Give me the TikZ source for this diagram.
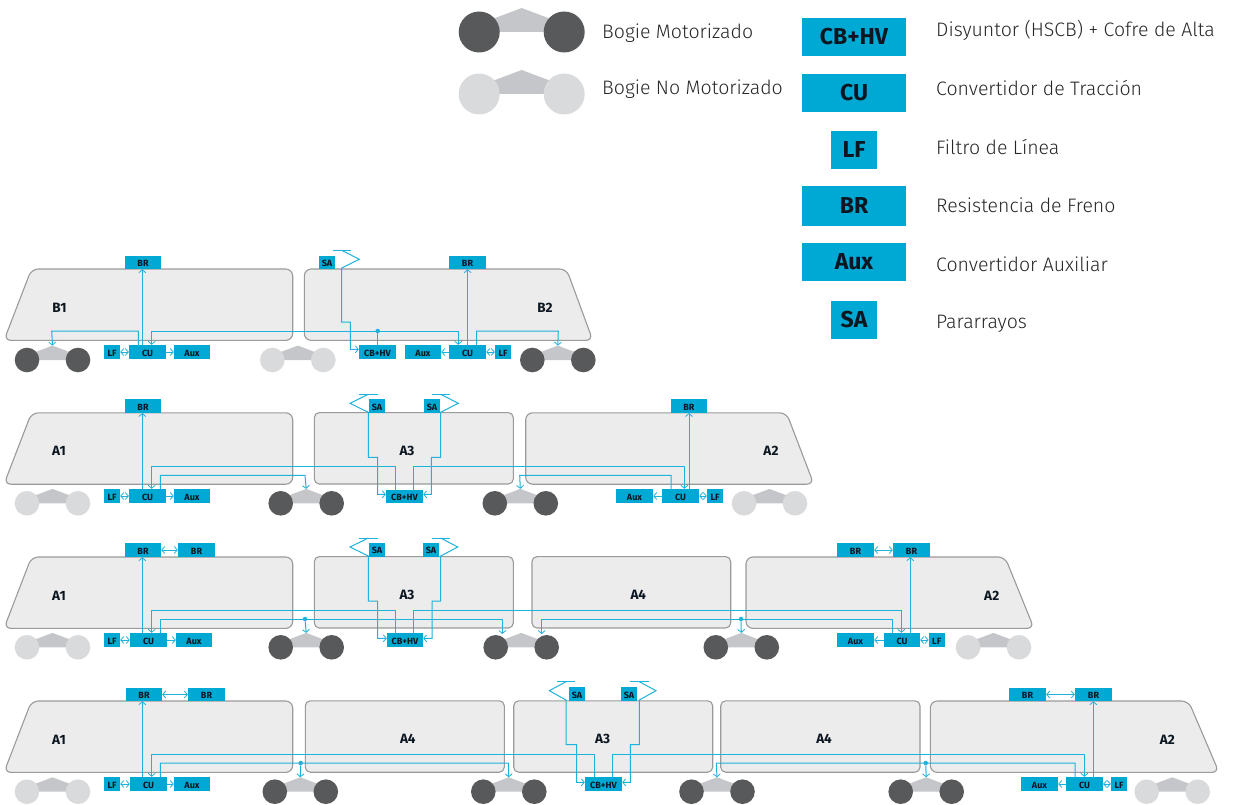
\documentclass[tikz,border=0pt]{standalone}
\usepackage{fontspec}
\setmainfont{Fira Sans}[UprightFont={* Light},BoldFont={* Bold}]
\usetikzlibrary{arrows.meta}
\definecolor{boxc}{HTML}{00A9D4}
\definecolor{wirec}{HTML}{1FB2DA}
\definecolor{carf}{HTML}{ECECEC}
\definecolor{card}{HTML}{9A9A9A}
\definecolor{motor}{HTML}{58595B}
\definecolor{idle}{HTML}{D9DADC}
\definecolor{bodyc}{HTML}{C5C6CA}
\definecolor{inkc}{HTML}{0B1620}
\tikzset{
 >={Straight Barb[length=3pt,width=7pt,line width=.8pt]},
 carbody/.style={draw=card,fill=carf,line width=1.1pt,rounded corners=7pt},
 wire/.style={draw=wirec,line width=1pt},
 boxn/.style={fill=boxc,inner sep=0pt,text=inkc,text height=8.2pt,text depth=0pt,font=\bfseries\fontsize{9}{10}\selectfont},
 boxl/.style={fill=boxc,inner sep=0pt,text=inkc,font=\bfseries\fontsize{23}{26}\selectfont},
 carlabel/.style={inner sep=0pt,text=inkc,font=\bfseries\fontsize{13.5}{15}\selectfont},
 legtext/.style={anchor=west,inner sep=0pt,text=black!85,font=\fontsize{19.5}{23}\selectfont},
 dotn/.style={circle,fill=wirec,inner sep=0pt,minimum size=4.5pt}
}
\newcommand{\carL}[4]{\draw[carbody] (4,#1+71.4)--(31.5,#1)--(292.7,#1)--(292.7,#1+71.4)--cycle;\node[carlabel] (#2) at (#3,#1+38.5) {#4};}
\newcommand{\carM}[6]{\draw[carbody,rounded corners=5pt] (#3,#1)--(#4,#1)--(#4,#1+71.4)--(#3,#1+71.4)--cycle;\node[carlabel] (#2) at (#5,#1+38.5) {#6};}
\newcommand{\carR}[7]{\draw[carbody] (#3,#1)--(#4,#1)--(#5,#1+71.4)--(#3,#1+71.4)--cycle;\node[carlabel] (#2) at (#6,#1+38.5) {#7};}
% bogie: name, cx, cy, wheel colour, scale
\newcommand{\bogie}[5]{\begin{scope}[shift={(#2,#3)},scale=#5]
 \fill[bodyc] (-30,0)--(-30,-12.7)--(0,-24)--(30,-12.7)--(30,0)--cycle;
 \fill[#4] (-42.5,0) circle[radius=20.5pt] (42.5,0) circle[radius=20.5pt];
 \coordinate (#1) at (0,-24);
 \end{scope}}
% box: name,l,t,r,b,text
\newcommand{\bx}[7][boxn]{\pgfmathsetmacro{\bxw}{#4-#2}\pgfmathsetmacro{\bxh}{#5-#3}%
 \node[#1,minimum width=\bxw pt,minimum height=\bxh pt] (#7) at ({(#2+#4)/2},{(#3+#5)/2}) {#6};}
% surge arrester bar
\newcommand{\sabar}[2]{\draw[wire] (#1-9.2,#2)--(#1+9.2,#2);}
\begin{document}
\begin{tikzpicture}[x=1pt,y=-1pt]
\useasboundingbox (0,0) rectangle (1234,805);
% ---------- legend
\bogie{legA}{521.7}{32}{motor}{1}
\bogie{legB}{521.7}{94}{idle}{1}
\node[legtext] (tA) at (602,33) {Bogie Motorizado};
\node[legtext] (tB) at (602,89) {Bogie No Motorizado};
\bx[boxl]{802}{18}{906}{56}{CB+HV}{l1}
\bx[boxl]{802}{74}{906}{112}{CU}{l2}
\bx[boxl]{831}{131}{877}{169}{LF}{l3}
\bx[boxl]{802}{186}{906}{226}{BR}{l4}
\bx[boxl]{802}{243}{906}{281}{Aux}{l5}
\bx[boxl]{831}{301}{877}{339}{SA}{l6}
\node[legtext] (d1) at (936,30) {Disyuntor (HSCB) + Cofre de Alta};
\node[legtext] (d2) at (936,88) {Convertidor de Tracción};
\node[legtext] (d3) at (936,147) {Filtro de Línea};
\node[legtext] (d4) at (936,205) {Resistencia de Freno};
\node[legtext] (d5) at (936,264) {Convertidor Auxiliar};
\node[legtext] (d6) at (936,324) {Pararrayos};
% ---------- row 1
\carL{269}{nB1}{59.5}{B1}
\carR{269}{nB2}{304.3}{566.5}{592.8}{545}{B2}
\bogie{ra1}{52.5}{360}{motor}{.6}
\bogie{ra2}{297.8}{360}{idle}{.6}
\bogie{ra3}{557.8}{360}{motor}{.6}
\bx{125}{256}{161}{269}{BR}{aBR}
\bx{104}{345}{120}{359}{LF}{aLF}
\bx{129}{345}{166}{359}{CU}{aCU}
\bx{174}{345}{210}{359}{Aux}{aAux}
\bx{319}{256}{335}{269}{SA}{aSA}
\bx{449}{256}{486}{269}{BR}{bBR}
\bx{359}{345}{396}{359}{CB+HV}{aCB}
\bx{405}{345}{441}{359}{Aux}{bAux}
\bx{449}{345}{486}{359}{CU}{bCU}
\bx{495}{345}{511}{359}{LF}{bLF}
\draw[wire,->] (aCU.north -| 142.3,0)--(aBR.south -| 142.3,0);
\draw[wire,->] (aCU.north -| 138.3,0)--(138.3,331)--(51.7,331)--(ra1);
\draw[wire,<->] (aCU.north -| 151.7,0)--(151.7,331)--(458.3,331)--(bCU.north -| 458.3,0);
\node[dotn] (aJ) at (377.7,331) {};
\draw[wire] (aJ)--(aCB.north -| aJ);
\draw[wire,->] (bCU.north -| 467.7,0)--(bBR.south -| 467.7,0);
\draw[wire,->] (bCU.north -| 476.7,0)--(476.7,331)--(558.3,331)--(ra3);
\sabar{341.7}{250.3}
\draw[wire,->] (341.7,250.3)--(359.3,259.3)--(341.7,268)--(341.7,322)--(350.3,322)--(350.3,349.3)--(aCB.west |- 0,349.3);
\draw[wire,<->] (aLF)--(aCU);
\draw[wire,->] (aCU)--(aAux);
\draw[wire,->] (bCU)--(bAux);
\draw[wire,<->] (bCU)--(bLF);
% ---------- row 2
\carL{412.8}{nA1b}{59}{A1}
\carM{412.6}{nA3b}{314.3}{513.3}{407}{A3}
\carR{412.8}{nA2b}{525.7}{786.5}{813.8}{771}{A2}
\bogie{rb1}{52.5}{503.3}{idle}{.6}
\bogie{rb2}{306.2}{503.3}{motor}{.6}
\bogie{rb3}{520.3}{503.3}{motor}{.6}
\bogie{rb4}{769.5}{503.3}{idle}{.6}
\bx{125}{399}{161}{412.8}{BR}{cBR}
\bx{104}{489}{120}{503}{LF}{cLF}
\bx{129}{489}{166}{503}{CU}{cCU}
\bx{174}{489}{210}{503}{Aux}{cAux}
\bx{369}{399}{385}{412.8}{SA}{cSA}
\bx{424}{399}{440}{412.8}{SA}{dSA}
\bx{386}{490}{423}{503}{CB+HV}{cCB}
\bx{671}{399}{706.7}{412.8}{BR}{dBR}
\bx{616}{489}{653}{503}{Aux}{dAux}
\bx{662}{489}{699}{503}{CU}{dCU}
\bx{707}{489}{723}{503}{LF}{dLF}
\draw[wire,->] (cCU.north -| 142.3,0)--(cBR.south -| 142.3,0);
\draw[wire,->] (cCB.north -| 395.7,0)--(395.7,466.3)--(151.7,466.3)--(cCU.north -| 151.7,0);
\draw[wire,->] (cCB.north -| 413.3,0)--(413.3,466.3)--(684.3,466.3)--(dCU.north -| 684.3,0);
\draw[wire,->] (cCU.north -| 160.3,0)--(160.3,475.3)--(305,475.3)--(rb2);
\draw[wire,->] (dCU.north -| 671,0)--(671,475.3)--(519.7,475.3)--(rb3);
\draw[wire,->] (dCU.north -| 689,0)--(dBR.south -| 689,0);
\sabar{368.3}{394.3}
\draw[wire,->] (368.3,394.3)--(350,403.3)--(368.3,412.3)--(368.3,457.3)--(377.7,457.3)--(377.7,494.3)--(cCB.west |- 0,494.3);
\sabar{440.7}{394.3}
\draw[wire,->] (440.7,394.3)--(458.3,403.3)--(440.7,412.3)--(440.7,457.3)--(431.3,457.3)--(431.3,494.3)--(cCB.east |- 0,494.3);
\draw[wire,<->] (cLF)--(cCU);
\draw[wire,->] (cCU)--(cAux);
\draw[wire,->] (dCU)--(dAux);
\draw[wire,<->] (dCU)--(dLF);
% ---------- row 3
\carL{557}{nA1c}{59}{A1}
\carM{556.6}{nA3c}{314.3}{513.3}{407}{A3}
\carM{556.6}{nA4c}{532}{730.7}{638.3}{A4}
\carR{557}{nA2c}{746}{1005}{1034}{991.7}{A2}
\bogie{rc1}{52.5}{647.3}{idle}{.6}
\bogie{rc2}{306.2}{647.3}{motor}{.6}
\bogie{rc3}{521.2}{647.3}{motor}{.6}
\bogie{rc4}{741.3}{647.3}{motor}{.6}
\bogie{rc5}{993.5}{647.3}{idle}{.6}
\bx{125}{543}{161}{557}{BR}{eBR}
\bx{178}{543}{215}{557}{BR}{fBR}
\bx{104}{633}{120}{647}{LF}{eLF}
\bx{130}{633}{167}{647}{CU}{eCU}
\bx{176}{633}{212}{647}{Aux}{eAux}
\bx{369}{543}{385}{556.7}{SA}{eSA}
\bx{423}{543}{439}{556.7}{SA}{fSA}
\bx{387}{633}{423}{647}{CB+HV}{eCB}
\bx{837}{543}{874}{557}{BR}{gBR}
\bx{893}{543}{930}{557}{BR}{hBR}
\bx{837}{633}{874}{647}{Aux}{hAux}
\bx{884}{633}{920}{647}{CU}{hCU}
\bx{928.7}{633}{944.7}{647}{LF}{hLF}
\draw[wire,<->] (eBR)--(fBR);
\draw[wire,<->] (gBR)--(hBR);
\draw[wire,->] (eCU.north -| 142.3,0)--(eBR.south -| 142.3,0);
\draw[wire,->] (eCB.north -| 395.7,0)--(395.7,610.3)--(151.7,610.3)--(eCU.north -| 151.7,0);
\draw[wire,->] (eCB.north -| 413.3,0)--(413.3,610.3)--(901.3,610.3)--(hCU.north -| 901.3,0);
\draw[wire,->] (eCU.north -| 160.3,0)--(160.3,619)--(502.3,619)--(502.3,634);
\draw[wire,->] (hCU.north -| 892.3,0)--(892.3,619)--(541.7,619)--(541.7,634);
\node[dotn] (eJ) at (305,619) {};
\node[dotn] (hJ) at (741,619) {};
\draw[wire,->] (eJ)--(rc2);
\draw[wire,->] (hJ)--(rc4);
\draw[wire,->] (hCU.north -| 910.3,0)--(hBR.south -| 910.3,0);
\sabar{368.3}{538}
\draw[wire,->] (368.3,538)--(350,547)--(368.3,556)--(368.3,601)--(377.7,601)--(377.7,638.3)--(eCB.west |- 0,638.3);
\sabar{440.7}{538}
\draw[wire,->] (440.7,538)--(457.7,547)--(440.7,556)--(440.7,601)--(432,601)--(432,638.3)--(eCB.east |- 0,638.3);
\draw[wire,<->] (eLF)--(eCU);
\draw[wire,->] (eCU)--(eAux);
\draw[wire,->] (hCU)--(hAux);
\draw[wire,<->] (hCU)--(hLF);
% ---------- row 4
\carL{701}{nA1d}{59}{A1}
\carM{700.8}{nA4d}{305.3}{504.3}{407.7}{A4}
\carM{700.8}{nA3d}{513.7}{712.7}{602.7}{A3}
\carM{700.8}{nA4e}{720.7}{920}{824}{A4}
\carR{701}{nA2d}{930.3}{1188.5}{1219}{1167.3}{A2}
\bogie{rd1}{52.5}{791.7}{idle}{.6}
\bogie{rd2}{300.3}{791.7}{motor}{.6}
\bogie{rd3}{508.8}{791.7}{motor}{.6}
\bogie{rd4}{717}{791.7}{motor}{.6}
\bogie{rd5}{926.2}{791.7}{motor}{.6}
\bogie{rd6}{1172.2}{791.7}{idle}{.6}
\bx{126}{688}{162}{701}{BR}{iBR}
\bx{188}{688}{225}{701}{BR}{jBR}
\bx{104}{777}{120}{791}{LF}{iLF}
\bx{130}{777}{167}{791}{CU}{iCU}
\bx{174}{777}{210}{791}{Aux}{iAux}
\bx{569}{687.3}{585}{700.7}{SA}{iSA}
\bx{621}{687.3}{637}{700.7}{SA}{jSA}
\bx{585}{777}{622}{791}{CB+HV}{iCB}
\bx{1009}{688}{1046}{701}{BR}{kBR}
\bx{1075}{688}{1112}{701}{BR}{lBR}
\bx{1021}{777}{1058}{791}{Aux}{lAux}
\bx{1066}{777}{1103}{791}{CU}{lCU}
\bx{1111}{777}{1127}{791}{LF}{lLF}
\draw[wire,<->] (iBR)--(jBR);
\draw[wire,<->] (kBR)--(lBR);
\draw[wire,->] (iCU.north -| 142.3,0)--(iBR.south -| 142.3,0);
\draw[wire,->] (iCB.north -| 594.3,0)--(594.3,754)--(151.7,754)--(iCU.north -| 151.7,0);
\draw[wire,->] (iCB.north -| 612.3,0)--(612.3,754)--(1084.3,754)--(lCU.north -| 1084.3,0);
\draw[wire,->] (iCU.north -| 160.3,0)--(160.3,763)--(508.3,763)--(rd3);
\draw[wire,->] (lCU.north -| 1075,0)--(1075,763)--(716.3,763)--(rd4);
\node[dotn] (iJ) at (300.7,763) {};
\node[dotn] (lJ) at (925.7,763) {};
\draw[wire,->] (iJ)--(rd2);
\draw[wire,->] (lJ)--(rd5);
\draw[wire,->] (lCU.north -| 1093.3,0)--(lBR.south -| 1093.3,0);
\sabar{566}{681.7}
\draw[wire,->] (566,681.7)--(549.3,690.7)--(566,700)--(566,744.7)--(576.7,744.7)--(576.7,782.3)--(iCB.west |- 0,782.3);
\sabar{639.3}{681.7}
\draw[wire,->] (639.3,681.7)--(656,690.7)--(639.3,700)--(639.3,744.7)--(630.3,744.7)--(630.3,782.3)--(iCB.east |- 0,782.3);
\draw[wire,<->] (iLF)--(iCU);
\draw[wire,->] (iCU)--(iAux);
\draw[wire,->] (lCU)--(lAux);
\draw[wire,<->] (lCU)--(lLF);
\end{tikzpicture}
\end{document}
